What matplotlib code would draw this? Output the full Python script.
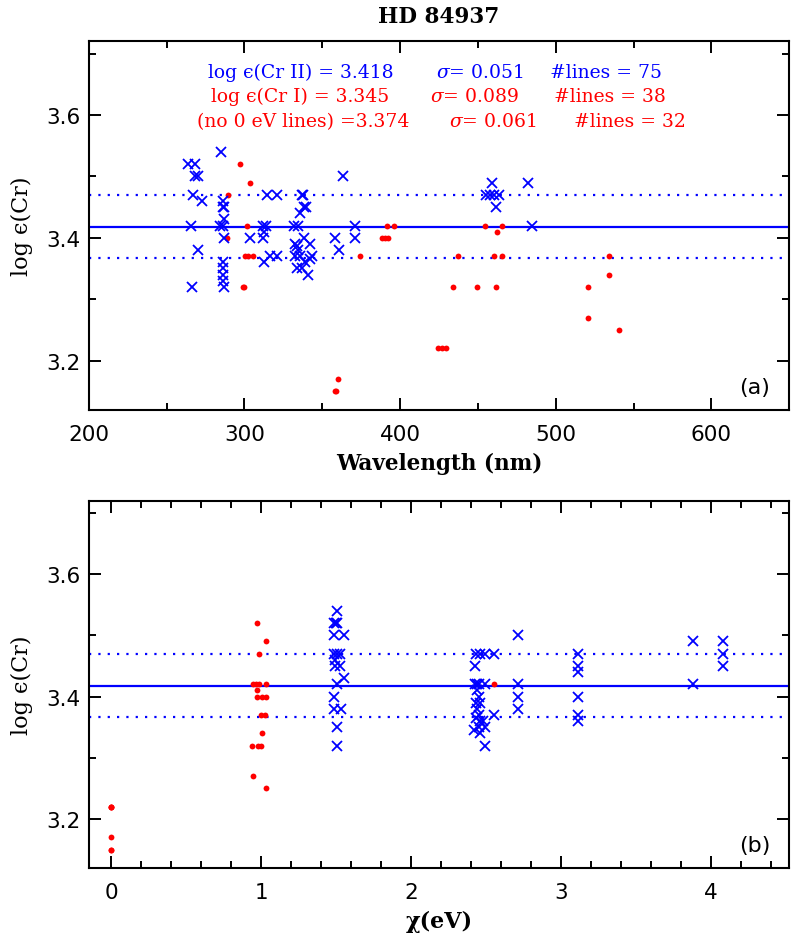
import numpy as np
import matplotlib
matplotlib.use("Agg")
import matplotlib.pyplot as plt
from matplotlib.ticker import MultipleLocator

# Cr II lines (blue crosses), panel (a): wavelength in nm, abundance
wl_cr2 = [264, 268, 268, 270, 267, 273, 266, 270, 266.5,
          285, 286.5, 286, 287, 287, 284.5, 286.5, 287, 286, 286, 286, 286, 287,
          303.6,
          314.5, 320.7, 311.7, 313.9, 312.5, 312, 312.6, 316.4, 320.7,
          332, 334.6, 336.8, 337.8, 338.5, 339.5, 335.7, 338.3, 342, 332.5, 333.6,
          334.6, 332.5, 335.7, 343.2, 342.1, 339, 333.6, 336.8, 341,
          358.2, 361, 363.1, 371, 371,
          459.2, 482.3, 455.2, 457.7, 460.5, 463.5, 461.6, 484.9]
ab_cr2_wl = [3.52, 3.52, 3.50, 3.50, 3.47, 3.46, 3.42, 3.38, 3.32,
             3.54, 3.46, 3.45, 3.45, 3.43, 3.42, 3.42, 3.40, 3.36, 3.35, 3.34, 3.33, 3.32,
             3.40,
             3.47, 3.47, 3.42, 3.42, 3.41, 3.40, 3.36, 3.37, 3.37,
             3.42, 3.42, 3.47, 3.47, 3.45, 3.45, 3.44, 3.40, 3.39, 3.39, 3.387,
             3.38, 3.37, 3.37, 3.37, 3.366, 3.36, 3.35, 3.35, 3.34,
             3.40, 3.38, 3.50, 3.42, 3.40,
             3.49, 3.49, 3.47, 3.47, 3.47, 3.47, 3.45, 3.42]

# Cr I lines (red dots), panel (a)
wl_cr1 = [297.5, 303.6, 289.7, 301.9, 289, 300.4, 302.5, 305.3, 299, 300,
          358, 359, 360.3,
          374.2, 391.8, 396.3, 388.2, 390.3, 392.4,
          424.5, 427, 429.5,
          434.2, 437, 449.6, 454.5, 465.3, 462.4, 460.3, 465.3, 461.4,
          520.5, 520.5, 534.4, 534.4, 540.8]
ab_cr1_wl = [3.52, 3.49, 3.47, 3.42, 3.40, 3.37, 3.37, 3.37, 3.32, 3.32,
             3.15, 3.15, 3.17,
             3.37, 3.42, 3.42, 3.40, 3.40, 3.40,
             3.22, 3.22, 3.22,
             3.32, 3.37, 3.32, 3.42, 3.42, 3.41, 3.37, 3.37, 3.32,
             3.32, 3.27, 3.37, 3.34, 3.25]

# panel (b): excitation potential in eV
chi_cr2 = [1.506, 1.488, 1.50, 1.506, 1.488, 1.551, 1.488, 1.506, 1.528, 1.49,
           1.495, 1.528, 1.551, 1.506, 1.488, 1.488, 1.533, 1.506, 1.506,
           2.43, 2.46, 2.49, 2.55, 2.427, 2.427, 2.44, 2.45, 2.49, 2.44, 2.45,
           2.43, 2.46, 2.44, 2.45, 2.43, 2.46, 2.45, 2.42, 2.46, 2.48, 2.49,
           2.55, 2.49,
           2.71, 2.71, 2.71, 2.71,
           3.11, 3.11, 3.11, 3.11, 3.11, 3.11,
           3.877, 3.877,
           4.08, 4.08, 4.08]
ab_cr2_chi = [3.54, 3.52, 3.52, 3.52, 3.50, 3.50, 3.47, 3.47, 3.47, 3.46,
              3.45, 3.45, 3.43, 3.42, 3.40, 3.38, 3.38, 3.35, 3.32,
              3.47, 3.47, 3.47, 3.47, 3.45, 3.42, 3.42, 3.42, 3.42, 3.41, 3.40,
              3.39, 3.39, 3.38, 3.37, 3.365, 3.36, 3.35, 3.345, 3.34, 3.36, 3.35,
              3.37, 3.32,
              3.50, 3.42, 3.40, 3.38,
              3.47, 3.45, 3.44, 3.40, 3.37, 3.36,
              3.49, 3.42,
              3.49, 3.47, 3.45]

chi_cr1 = [0.971, 1.033, 0.984, 0.944, 0.967, 0.984, 1.033, 0.971, 0.971, 1.007,
           1.033, 1.0, 1.027, 1.004, 0.94, 0.978, 1.0, 0.944, 1.033,
           0, 0, 0, 0, 0, 0, 2.55]
ab_cr1_chi = [3.52, 3.49, 3.47, 3.42, 3.42, 3.42, 3.42, 3.41, 3.40, 3.40,
              3.40, 3.37, 3.37, 3.34, 3.32, 3.32, 3.32, 3.27, 3.25,
              3.22, 3.22, 3.22, 3.17, 3.15, 3.15, 3.42]

mean_cr2 = 3.418
sigma_cr2 = 0.051

W, H = 800, 945
fig = plt.figure(figsize=(8, 9.45), dpi=100)
ax1 = fig.add_axes([88.7 / W, 1 - 410.7 / H, 700.6 / W, 368.4 / H])
ax2 = fig.add_axes([88.7 / W, 1 - 869 / H, 700.6 / W, 367.3 / H])

serif = "DejaVu Serif"
panels = [(ax1, wl_cr1, ab_cr1_wl, wl_cr2, ab_cr2_wl),
          (ax2, chi_cr1, ab_cr1_chi, chi_cr2, ab_cr2_chi)]
for ax, x1, y1, x2, y2 in panels:
    ax.plot(x1, y1, 'o', color='red', ms=4.2, mew=0, zorder=3)
    ax.plot(x2, y2, 'x', color='blue', ms=6.5, mew=1.3, zorder=4)
    ax.axhline(mean_cr2, color='blue', lw=1.6, zorder=2)
    for yy in (mean_cr2 - sigma_cr2, mean_cr2 + sigma_cr2):
        ax.axhline(yy, color='blue', lw=1.6, ls=(0, (1, 3.2)), zorder=2)
    ax.set_ylim(3.12, 3.72)
    ax.yaxis.set_major_locator(MultipleLocator(0.2))
    ax.yaxis.set_minor_locator(MultipleLocator(0.1))
    ax.tick_params(which='both', direction='in', top=True, right=True, width=1.4)
    ax.tick_params(which='major', length=8.5)
    ax.tick_params(which='minor', length=5)
    ax.tick_params(axis='x', which='major', pad=10, labelsize=15.5)
    ax.tick_params(axis='y', which='major', pad=6, labelsize=15.5)
    for s in ax.spines.values():
        s.set_linewidth(1.5)
    ax.set_ylabel("log ϵ(Cr)", fontsize=16, family=serif)
    ax.yaxis.set_label_coords(-0.08, 0.5)

ax1.set_xlim(200, 650)
ax1.xaxis.set_major_locator(MultipleLocator(100))
ax1.xaxis.set_minor_locator(MultipleLocator(50))
ax1.set_xlabel("Wavelength (nm)", fontsize=15.5, family=serif, fontweight='bold')
ax1.xaxis.set_label_coords(0.5, -0.115)
ax1.text(0.9725, 0.062, "(a)", transform=ax1.transAxes, ha='right', va='center', fontsize=16)

ax2.set_xlim(-0.15, 4.52)
ax2.xaxis.set_major_locator(MultipleLocator(1))
ax2.xaxis.set_minor_locator(MultipleLocator(0.2))
ax2.set_xlabel("χ(eV)", fontsize=16, family=serif, fontweight='bold')
ax2.xaxis.set_label_coords(0.5, -0.115)
ax2.text(0.9725, 0.062, "(b)", transform=ax2.transAxes, ha='right', va='center', fontsize=16)

fig.text(439 / W, 1 - 17 / H, "HD 84937", ha='center', va='center', fontsize=15.5,
         family=serif, fontweight='bold')

# summary text in panel (a)
plt.rcParams['mathtext.fontset'] = 'dejavuserif'
rows = [
    (73, 'blue', [(208, "log ϵ(Cr II) = 3.418"), (436, "$\\sigma$= 0.051"), (550, "#lines = 75")]),
    (97, 'red', [(211, "log ϵ(Cr I) = 3.345"), (430, "$\\sigma$= 0.089"), (554, "#lines = 38")]),
    (122, 'red', [(197, "(no 0 eV lines) =3.374"), (449, "$\\sigma$= 0.061"), (574, "#lines = 32")]),
]
for y, c, parts in rows:
    for x, s in parts:
        fig.text(x / W, 1 - y / H, s, color=c, ha='left', va='center', fontsize=13.5, family=serif)

fig.savefig("out.png", dpi=100)
